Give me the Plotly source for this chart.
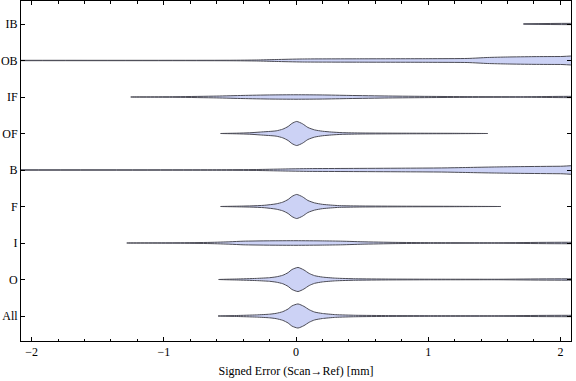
import plotly.graph_objects as go

# Categories (bottom to top)
categories = ["All", "O", "I", "F", "B", "OF", "IF", "OB", "IB"]

# Violin outlines: x positions (mm) and relative density (peak = 1)
x_All = [-0.59, -0.45, -0.3, -0.2, -0.15, -0.1, -0.06, -0.03, 0.015, 0.06, 0.1, 0.14, 0.2, 0.3, 0.45, 0.7, 1.0, 1.5, 2.2]
d_All = [0.0, 0.04, 0.09, 0.15, 0.22, 0.36, 0.58, 0.84, 1.0, 0.8, 0.52, 0.33, 0.21, 0.11, 0.06, 0.035, 0.025, 0.02, 0.015]

x_O = [-0.585, -0.45, -0.3, -0.2, -0.15, -0.1, -0.06, -0.03, 0.015, 0.06, 0.1, 0.14, 0.2, 0.3, 0.45, 0.7, 1.0, 1.5, 2.2]
d_O = [0.0, 0.04, 0.09, 0.15, 0.22, 0.35, 0.57, 0.83, 1.0, 0.79, 0.5, 0.32, 0.2, 0.11, 0.06, 0.035, 0.025, 0.02, 0.015]

x_I = [-1.28, -0.9, -0.65, -0.5, -0.4, -0.2, 0.0, 0.2, 0.35, 0.5, 0.75, 1.0, 1.5, 2.2]
d_I = [0.0, 0.017, 0.05, 0.1, 0.15, 0.18, 0.19, 0.175, 0.15, 0.1, 0.05, 0.03, 0.02, 0.017]

x_F = [-0.57, -0.45, -0.34, -0.24, -0.15, -0.1, -0.06, -0.03, 0.005, 0.05, 0.09, 0.14, 0.2, 0.26, 0.33, 0.5, 0.8, 1.2, 1.55]
d_F = [0.0, 0.025, 0.05, 0.1, 0.22, 0.36, 0.58, 0.84, 1.0, 0.8, 0.5, 0.3, 0.18, 0.12, 0.07, 0.04, 0.025, 0.015, 0.0]

x_B = [-2.3, -0.6, -0.3, -0.1, 0.1, 0.4, 0.8, 1.1, 1.3, 1.5, 1.7, 2.0, 2.2]
d_B = [0.017, 0.02, 0.04, 0.08, 0.115, 0.13, 0.15, 0.17, 0.21, 0.25, 0.28, 0.31, 0.32]

x_OF = [-0.57, -0.45, -0.35, -0.27, -0.15, -0.1, -0.06, -0.03, 0.005, 0.05, 0.09, 0.14, 0.2, 0.27, 0.35, 0.5, 0.8, 1.2, 1.45]
d_OF = [0.0, 0.025, 0.06, 0.12, 0.22, 0.36, 0.58, 0.84, 1.0, 0.8, 0.5, 0.3, 0.19, 0.12, 0.07, 0.04, 0.025, 0.015, 0.0]

x_IF = [-1.25, -0.9, -0.6, -0.4, -0.2, 0.0, 0.2, 0.4, 0.7, 1.0, 1.3, 1.7, 2.2]
d_IF = [0.0, 0.025, 0.075, 0.13, 0.17, 0.185, 0.17, 0.13, 0.08, 0.05, 0.03, 0.02, 0.017]

x_OB = [-2.3, -0.5, -0.3, -0.15, 0.05, 0.5, 1.0, 1.3, 1.45, 1.6, 1.8, 2.0, 2.2]
d_OB = [0.017, 0.02, 0.04, 0.08, 0.125, 0.14, 0.15, 0.17, 0.25, 0.29, 0.32, 0.33, 0.33]

x_IB = [1.72, 2.2]
d_IB = [0.015, 0.015]

violins = {
    "All": (x_All, d_All), "O": (x_O, d_O), "I": (x_I, d_I), "F": (x_F, d_F),
    "B": (x_B, d_B), "OF": (x_OF, d_OF), "IF": (x_IF, d_IF), "OB": (x_OB, d_OB),
    "IB": (x_IB, d_IB),
}

x_ticks = [-2, -1, 0, 1, 2]
x_tick_labels = ["\u22122", "\u22121", "0", "1", "2"]

HALF_WIDTH = 0.33  # category units for density 1
FILL = "rgb(204,210,245)"
EDGE = "rgb(75,75,85)"
FONT = "Liberation Serif"

fig = go.Figure()
for i, cat in enumerate(categories):
    c = i + 1
    xs, ds = violins[cat]
    upper = [c + HALF_WIDTH * d for d in ds]
    lower = [c - HALF_WIDTH * d for d in ds]
    fig.add_trace(go.Scatter(
        x=list(xs) + list(xs)[::-1],
        y=upper + lower[::-1],
        mode="lines", fill="toself", fillcolor=FILL,
        line=dict(color=EDGE, width=1, shape="spline", smoothing=0.6),
        showlegend=False, hoverinfo="skip",
    ))

axis_common = dict(
    showline=True, linecolor="black", linewidth=1, mirror="ticks",
    ticks="inside", ticklen=4, tickcolor="black", tickwidth=1,
    showgrid=False, zeroline=False, automargin=False,
    tickfont=dict(family=FONT, size=12, color="black"),
)

fig.update_xaxes(
    range=[-2.08, 2.08], tickvals=x_ticks, ticktext=x_tick_labels,
    minor=dict(dtick=0.2, ticks="inside", ticklen=2.5, tickcolor="black", showgrid=False),
    title=dict(text="Signed Error (Scan\u2192Ref) [mm]", font=dict(family=FONT, size=12, color="black"), standoff=8),
    **axis_common,
)
fig.update_yaxes(
    range=[0.315, 9.63], tickvals=list(range(1, len(categories) + 1)), ticktext=categories,
    **axis_common,
)

fig.update_layout(
    width=576, height=381,
    margin=dict(l=21, r=5, t=1, b=40),
    plot_bgcolor="white", paper_bgcolor="white",
)

fig.write_html(
    "out.html",
    config={"displayModeBar": False},
    post_script="document.body.style.margin='0';document.body.style.overflow='hidden';",
)
